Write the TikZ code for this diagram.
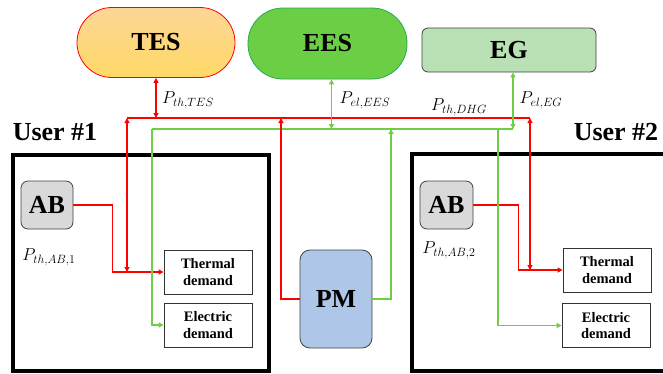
\documentclass[tikz,border=0pt]{standalone}
\usepackage{fontspec}
\setmainfont{Liberation Serif}
\usetikzlibrary{arrows.meta}

\definecolor{heatred}{RGB}{255,0,0}
\definecolor{elgreen}{RGB}{110,206,70}
\definecolor{tesTop}{RGB}{252,214,150}
\definecolor{tesBot}{RGB}{255,217,102}
\definecolor{eesFill}{RGB}{106,207,68}
\definecolor{eesLine}{RGB}{40,168,72}
\definecolor{egFill}{RGB}{186,224,181}
\definecolor{abFill}{RGB}{217,217,217}
\definecolor{pmFill}{RGB}{174,199,232}

\begin{document}
\begin{tikzpicture}[x=1pt, y=-1pt,
    every node/.style={inner sep=0pt},
    bigtxt/.style={font=\fontsize{26}{28}\selectfont\bfseries},
    unitbox/.style={draw=black!75, line width=0.8pt, bigtxt},
    demand/.style={draw=black!80, line width=0.8pt, minimum width=88pt, minimum height=44pt,
        align=center, font=\fontsize{14.5}{16.5}\selectfont\bfseries},
    flow/.style={font=\fontsize{16.5}{18}\selectfont},
    userbox/.style={draw=black, line width=4pt},
    thl/.style={draw=heatred, line width=1.8pt},
    ell/.style={draw=elgreen, line width=1.8pt},
    >={Triangle[length=5pt,width=5pt]}]
  \useasboundingbox (0,0) rectangle (663,373);

  % storage, grid and production units
  \node[unitbox, draw=heatred, top color=tesTop, bottom color=tesBot, rounded corners=35pt,
        minimum width=158pt, minimum height=70pt] (tes) at (156,42.5) {TES};
  \node[unitbox, draw=eesLine, fill=eesFill, rounded corners=35pt,
        minimum width=159pt, minimum height=71pt] (ees) at (327.5,43.5) {EES};
  \node[unitbox, fill=egFill, rounded corners=6pt,
        minimum width=174pt, minimum height=44pt] (eg) at (509,50) {EG};
  \node[unitbox, fill=pmFill, rounded corners=10pt,
        minimum width=72pt, minimum height=98pt] (pm) at (336,299) {PM};

  % users
  \draw[userbox] (13,155) rectangle (269,371);
  \draw[userbox] (412,154) rectangle (670,371);
  \node[bigtxt] (user1) at (55,132) {User \#1};
  \node[bigtxt] (user2) at (616,132) {User \#2};

  \node[unitbox, fill=abFill, rounded corners=7pt,
        minimum width=52pt, minimum height=48pt] (ab1) at (47,205) {AB};
  \node[unitbox, fill=abFill, rounded corners=7pt,
        minimum width=53pt, minimum height=48pt] (ab2) at (446.5,205) {AB};
  \node[demand] (th1) at (208,272) {Thermal\\demand};
  \node[demand] (el1) at (208,325) {Electric\\demand};
  \node[demand] (th2) at (607,270) {Thermal\\demand};
  \node[demand] (el2) at (606,325.5) {Electric\\demand};

  % heat and power buses
  \coordinate (rbL) at (127,118);
  \coordinate (rbPM) at (281,118);
  \coordinate (rbR) at (530,118);
  \coordinate (gbL) at (152,129);
  \coordinate (gbPM) at (391,129);
  \coordinate (gbU2) at (498,129);
  \coordinate (gbR) at (513,129);
  \draw[thl] (rbL) -- (rbR);
  \draw[ell] (gbL) -- (gbR);

  \draw[thl, <->] (tes.south) -- (tes.south |- rbL);
  \draw[ell, <->] ([xshift=4pt]ees.south) -- ([xshift=4pt]ees.south |- gbL);
  \draw[ell, <->] ([xshift=4pt]eg.south) -- (gbR);
  \draw[thl, ->] (pm.west) -| (rbPM);
  \draw[ell, ->] (pm.east) -| (gbPM);

  % links inside the users
  \draw[thl, <->] (rbL) -- (rbL |- th1.west);
  \draw[thl, ->] (ab1.east) -- ++(39,0) |- (th1.west);
  \draw[ell, ->] (gbL) |- (el1.west);
  \draw[thl, <->] (rbR) -- (rbR |- th2.west);
  \draw[thl, ->] (ab2.east) -- ++(45,0) |- (th2.west);
  \draw[ell, ->] (gbU2) |- (el2.west);

  % flow labels
  \node[flow] (ptes) at (188,100) {$P_{th,TES}$};
  \node[flow] (pees) at (365,100) {$P_{el,EES}$};
  \node[flow] (pdhg) at (459,107) {$P_{th,DHG}$};
  \node[flow] (peg) at (541,100) {$P_{el,EG}$};
  \node[flow] (pab1) at (49,257) {$P_{th,AB,1}$};
  \node[flow] (pab2) at (449,250) {$P_{th,AB,2}$};
\end{tikzpicture}
\end{document}
